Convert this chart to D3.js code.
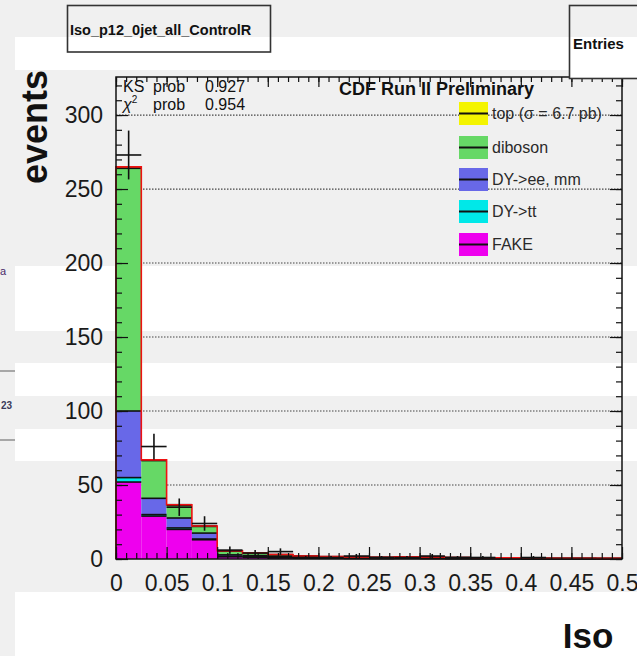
<!DOCTYPE html>
<html><head><meta charset="utf-8">
<script src="https://cdn.jsdelivr.net/npm/d3@7"></script>
<style>
body{margin:0;background:#f0f0f0;}
svg{display:block;font-family:"Liberation Sans",Arial,sans-serif;}
</style>
</head><body>
<svg id="c" width="637" height="656"></svg>
<script>
// ---- data ----
const binStarts = [0,0.025,0.05,0.075,0.1,0.125,0.15,0.175,0.2,0.225,0.25,0.275,0.3,0.325,0.35,0.375,0.4,0.425,0.45,0.475];
const binWidth = 0.025;
const fake    = [52, 29, 20, 13, 1.5, 1.2, 0.8, 0.6, 0.5, 0.4, 0.3, 0.4, 0.3, 0.2, 0.2, 0.2, 0.1, 0.1, 0.1, 0.1];
const dytt    = [3, 1, 1, 0.5, 0.3, 0.2, 0.2, 0.1, 0.1, 0.1, 0.1, 0.1, 0.1, 0.1, 0.05, 0.05, 0.05, 0.05, 0.05, 0.05];
const dyll    = [45, 11, 6.7, 4, 1.0, 0.8, 0.6, 0.4, 0.3, 0.3, 0.2, 0.3, 0.3, 0.2, 0.2, 0.1, 0.1, 0.1, 0.1, 0.1];
const diboson = [164, 25.5, 8.5, 4.5, 2.5, 1.6, 1.2, 0.8, 0.6, 0.5, 0.4, 0.6, 0.6, 0.4, 0.3, 0.3, 0.2, 0.2, 0.2, 0.1];
const topq    = [1, 0.5, 0.5, 0.3, 0.3, 0.2, 0.2, 0.1, 0.1, 0.1, 0.1, 0.1, 0.1, 0.1, 0.1, 0.1, 0.05, 0.05, 0.05, 0.05];
const dataCounts = [273, 76, 35, 24, 6, 4, 5, 1, 1, 2, 1, 1, 2, 1, 1, 0, 1, 0, 0, 0];
const dataErr    = [16.5, 8.7, 5.9, 4.9, 2.4, 2.0, 2.2, 1, 1, 1.4, 1, 1, 1.4, 1, 1, 0, 1, 0, 0, 0];
const seriesNames  = ["FAKE", "DY->tt", "DY->ee, mm", "diboson", "top (\u03c3 = 6.7 pb)"];
const seriesColors = ["#ee00ee", "#00e8e8", "#6868e8", "#66d866", "#f4f400"];
const xTicks = [0,0.05,0.1,0.15,0.2,0.25,0.3,0.35,0.4,0.45,0.5];
const yTicks = [0,50,100,150,200,250,300];
const legendOrder = [4,3,2,1,0];

const svg = d3.select("#c");

// ---- background bands (screenshot artefacts) ----
const bands = [[37,70],[266,331],[363,396],[429,461],[592,656]];
svg.selectAll("rect.band").data(bands).join("rect").attr("class","band")
  .attr("x",15).attr("y",d=>d[0]).attr("width",622).attr("height",d=>d[1]-d[0]).attr("fill","#ffffff");
// left-edge fragments
svg.append("line").attr("x1",0).attr("x2",15).attr("y1",371).attr("y2",371).attr("stroke","#777").attr("stroke-width",1.2);
svg.append("line").attr("x1",0).attr("x2",15).attr("y1",440).attr("y2",440).attr("stroke","#777").attr("stroke-width",1.2);
svg.append("text").attr("x",1).attr("y",409).attr("font-size",10).attr("font-weight","bold").attr("fill","#3a3a5a").text("23");
svg.append("text").attr("x",0).attr("y",275).attr("font-size",11).attr("fill","#4a2a6a").text("a");

// ---- scales ----
const L = 116, R = 622, T = 77, B = 559;
const x = d3.scaleLinear().domain([0,0.5]).range([L,R]);
const y = d3.scaleLinear().domain([0,325.7]).range([B,T]);

// gridlines
svg.append("g").selectAll("line").data(yTicks.filter(v=>v>0)).join("line")
  .attr("x1",L).attr("x2",R).attr("y1",d=>y(d)).attr("y2",d=>y(d))
  .attr("stroke","#444").attr("stroke-width",1.2).attr("stroke-dasharray","1.5,1.5");

// ---- stacked histogram ----
const layers = [fake, dytt, dyll, diboson, topq];
const cum = binStarts.map(()=>0);
const stackData = layers.map((vals,li)=>{
  const out = vals.map((v,i)=>{ const o={i, y0:cum[i], y1:cum[i]+v}; cum[i]+=v; return o; });
  return {li, bins: out};
});
const gStack = svg.append("g");
stackData.forEach(layer=>{
  gStack.append("g").selectAll("rect").data(layer.bins).join("rect")
    .attr("x",d=>x(binStarts[d.i])).attr("width",d=>x(binStarts[d.i]+binWidth)-x(binStarts[d.i]))
    .attr("y",d=>y(d.y1)).attr("height",d=>y(d.y0)-y(d.y1))
    .attr("fill",seriesColors[layer.li]);
});
stackData.forEach(layer=>{
  gStack.append("g").selectAll("line").data(layer.bins).join("line")
    .attr("x1",d=>x(binStarts[d.i])).attr("x2",d=>x(binStarts[d.i]+binWidth))
    .attr("y1",d=>y(d.y1)).attr("y2",d=>y(d.y1))
    .attr("stroke","#111").attr("stroke-width",1.6);
});
// red outline of total
const totals = cum.slice();
let p = `M${x(0)},${y(0)}`;
totals.forEach((t,i)=>{ p += `L${x(binStarts[i])},${y(t)}L${x(binStarts[i]+binWidth)},${y(t)}`; });
p += `L${x(0.5)},${y(0)}`;
svg.append("path").attr("d",p).attr("fill","none").attr("stroke","#ee1111").attr("stroke-width",1.6);

// ---- data points ----
const gData = svg.append("g").attr("stroke","#111").attr("stroke-width",1.6);
dataCounts.forEach((v,i)=>{
  if (v<=0) return;
  const cx = x(binStarts[i]+binWidth/2);
  gData.append("line").attr("x1",cx).attr("x2",cx).attr("y1",y(v-dataErr[i])).attr("y2",y(v+dataErr[i]));
  gData.append("line").attr("x1",x(binStarts[i])).attr("x2",x(binStarts[i]+binWidth)).attr("y1",y(v)).attr("y2",y(v));
});

// ---- frame & axes ----
svg.append("rect").attr("x",L).attr("y",T).attr("width",R-L).attr("height",B-T)
  .attr("fill","none").attr("stroke","#111").attr("stroke-width",1.5);

const fmt = d => (d===0?"0":(+d.toFixed(2)).toString());
function styleAxis(g){ g.select(".domain").remove(); g.selectAll(".tick line").attr("stroke","#111").attr("stroke-width",1.2); }
const minorX = d3.range(0,0.5001,0.01), minorY = d3.range(0,326,10);

svg.append("g").attr("transform",`translate(0,${B})`)
  .call(d3.axisBottom(x).tickValues(minorX).tickSize(-6).tickFormat("")).call(styleAxis);
svg.append("g").attr("transform",`translate(0,${B})`)
  .call(d3.axisBottom(x).tickValues(xTicks).tickSize(-12).tickFormat(fmt).tickPadding(20))
  .call(styleAxis)
  .call(g=>g.selectAll("text").attr("font-size",23).attr("fill","#1a1a1a").attr("font-family","Liberation Sans, Arial, sans-serif").attr("dy","0.5em"));
svg.append("g").attr("transform",`translate(0,${T})`)
  .call(d3.axisTop(x).tickValues(minorX).tickSize(-5).tickFormat("")).call(styleAxis);
svg.append("g").attr("transform",`translate(0,${T})`)
  .call(d3.axisTop(x).tickValues(xTicks).tickSize(-10).tickFormat("")).call(styleAxis);

svg.append("g").attr("transform",`translate(${L},0)`)
  .call(d3.axisLeft(y).tickValues(minorY).tickSize(-6).tickFormat("")).call(styleAxis);
svg.append("g").attr("transform",`translate(${L},0)`)
  .call(d3.axisLeft(y).tickValues(yTicks).tickSize(-12).tickFormat(d3.format("d")).tickPadding(13))
  .call(styleAxis)
  .call(g=>g.selectAll("text").attr("font-size",23).attr("fill","#1a1a1a").attr("font-family","Liberation Sans, Arial, sans-serif"));
svg.append("g").attr("transform",`translate(${R},0)`)
  .call(d3.axisRight(y).tickValues(minorY).tickSize(-6).tickFormat("")).call(styleAxis);
svg.append("g").attr("transform",`translate(${R},0)`)
  .call(d3.axisRight(y).tickValues(yTicks).tickSize(-12).tickFormat("")).call(styleAxis);

// axis titles
svg.append("text").attr("transform","translate(47,127) rotate(-90)").attr("text-anchor","middle")
  .attr("font-size",36).attr("font-weight","bold").attr("fill","#111").text("events");
svg.append("text").attr("x",588).attr("y",648).attr("text-anchor","middle")
  .attr("font-size",35).attr("font-weight","bold").attr("fill","#111").text("Iso");

// ---- stats text ----
const st = svg.append("g").attr("font-size",16).attr("fill","#111");
const l1 = st.append("text").attr("y",92);
l1.append("tspan").attr("x",123).text("KS");
l1.append("tspan").attr("x",153).text("prob");
l1.append("tspan").attr("x",205).text("0.927");
const l2 = st.append("text").attr("y",110);
l2.append("tspan").attr("x",123).attr("font-style","italic").text("\u03c7");
l2.append("tspan").attr("font-size",10).attr("dy",-7).text("2");
l2.append("tspan").attr("x",153).attr("dy",7).text("prob");
l2.append("tspan").attr("x",205).text("0.954");

svg.append("text").attr("x",339).attr("y",95).attr("font-size",18).attr("font-weight","bold").attr("fill","#111")
  .text("CDF Run II Preliminary");

// ---- legend ----
const legY = [113.5,147.5,179.5,211.5,244.5];
const lg = svg.append("g");
legendOrder.forEach((si,k)=>{
  const cy = legY[k];
  lg.append("rect").attr("x",459).attr("y",cy-11.5).attr("width",29).attr("height",23).attr("fill",seriesColors[si]);
  lg.append("line").attr("x1",459).attr("x2",488).attr("y1",cy).attr("y2",cy).attr("stroke","#111").attr("stroke-width",2);
  lg.append("text").attr("x",492).attr("y",cy+5.5).attr("font-size",16).attr("fill","#2a2a2a").text(seriesNames[si]);
});

// ---- title box & stats box ----
svg.append("rect").attr("x",67.5).attr("y",5.5).attr("width",203).attr("height",46.5)
  .attr("fill","none").attr("stroke","#333").attr("stroke-width",1.6);
svg.append("text").attr("x",70).attr("y",35).attr("font-size",14.5).attr("font-weight","bold").attr("fill","#111")
  .text("Iso_p12_0jet_all_ControlR");
svg.append("rect").attr("x",569).attr("y",37).attr("width",68).attr("height",42).attr("fill","#ffffff");
svg.append("rect").attr("x",569.5).attr("y",5.5).attr("width",80).attr("height",73)
  .attr("fill","none").attr("stroke","#333").attr("stroke-width",1.6);
svg.append("text").attr("x",573).attr("y",49).attr("font-size",15).attr("font-weight","bold").attr("fill","#111").text("Entries");
</script>
</body></html>
